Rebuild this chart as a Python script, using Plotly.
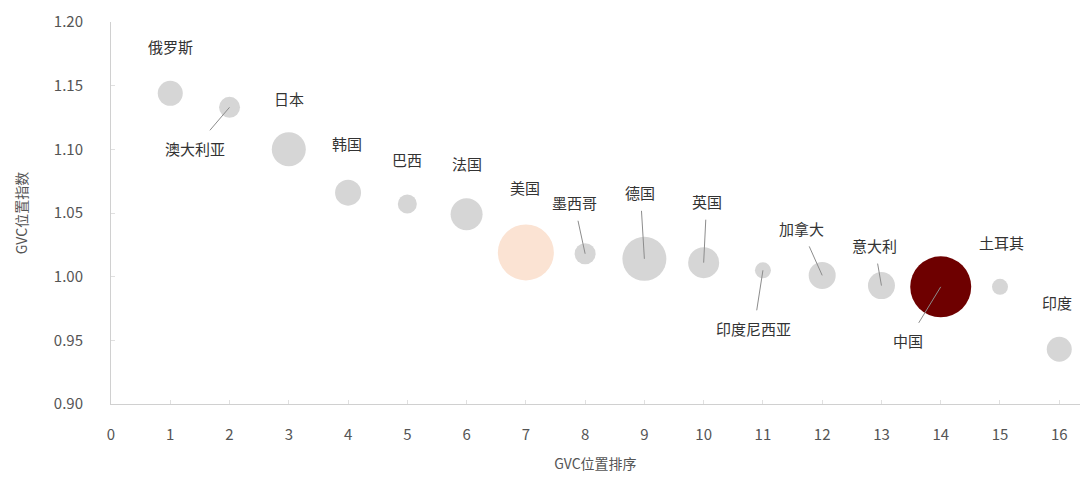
import plotly.graph_objects as go

# GVC position ranking vs. index, bubble diameter reflects economy weight
countries = ["俄罗斯", "澳大利亚", "日本", "韩国", "巴西", "法国", "美国", "墨西哥",
             "德国", "英国", "印度尼西亚", "加拿大", "意大利", "中国", "土耳其", "印度"]
rank = [1, 2, 3, 4, 5, 6, 7, 8, 9, 10, 11, 12, 13, 14, 15, 16]
gvc_index = [1.144, 1.133, 1.100, 1.066, 1.057, 1.049, 1.019, 1.018,
             1.014, 1.011, 1.005, 1.001, 0.993, 0.992, 0.992, 0.943]
weight = [25, 21, 34, 26, 19, 32, 56, 21, 44, 31, 16, 27, 27, 61, 16, 25]

x_ticks = list(range(0, 17))
y_ticks = [0.90, 0.95, 1.00, 1.05, 1.10, 1.15, 1.20]

GREY = "#d6d6d6"
colors = [GREY] * len(countries)
colors[countries.index("美国")] = "#fbe3d3"
colors[countries.index("中国")] = "#6e0000"

FONT = "Noto Sans CJK SC"
TXT = "#333333"
AXIS_TXT = "#555555"

fig = go.Figure()
fig.add_trace(go.Scatter(
    x=rank, y=gvc_index, mode="markers",
    marker=dict(size=weight, sizemode="diameter", sizeref=1, color=colors,
                opacity=1, line=dict(width=0)),
    text=countries, hoverinfo="text+x+y", showlegend=False,
))

# label placement: (dx, dy) pixel offsets of the label from its bubble, leader flag
label_pos = {
    "俄罗斯": (0, -47, False),
    "澳大利亚": (-35, 41, True),
    "日本": (0, -51, False),
    "韩国": (-1, -49, False),
    "巴西": (0, -45, False),
    "法国": (0, -51, False),
    "美国": (-1, -65, False),
    "墨西哥": (-11, -51, True),
    "德国": (-4, -66, True),
    "英国": (3, -61, True),
    "印度尼西亚": (-9, 58, True),
    "加拿大": (-21, -47, True),
    "意大利": (-7, -40, True),
    "中国": (-33, 54, True),
    "土耳其": (2, -44, False),
    "印度": (-2, -47, False),
}

annotations = []
for name, xv, yv in zip(countries, rank, gvc_index):
    dx, dy, leader = label_pos[name]
    if leader:
        annotations.append(dict(
            x=xv, y=yv, xref="x", yref="y", text=name, showarrow=True,
            ax=dx, ay=dy, axref="pixel", ayref="pixel",
            arrowhead=0, arrowwidth=1, arrowcolor="#8c8c8c", standoff=0,
            borderpad=7, font=dict(family=FONT, size=15, color=TXT),
        ))
    else:
        annotations.append(dict(
            x=xv, y=yv, xref="x", yref="y", text=name, showarrow=False,
            xshift=dx, yshift=-dy, font=dict(family=FONT, size=15, color=TXT),
        ))

fig.update_layout(
    width=1087, height=480,
    margin=dict(l=111, r=7, t=22, b=76),
    paper_bgcolor="white", plot_bgcolor="white",
    font=dict(family=FONT, size=15, color=AXIS_TXT),
    annotations=annotations,
    xaxis=dict(
        range=[0, 16.35], tickvals=x_ticks, ticktext=[str(v) for v in x_ticks],
        showgrid=False, zeroline=False, showline=True, linecolor="#d0d0d0", linewidth=1,
        ticks="inside", ticklen=4, tickcolor="#e0e0e0",
        tickfont=dict(family=FONT, size=15, color=AXIS_TXT),
        ticklabelstandoff=17,
        title=dict(text="GVC位置排序", font=dict(family=FONT, size=14, color=AXIS_TXT), standoff=16),
    ),
    yaxis=dict(
        range=[0.90, 1.20], tickvals=y_ticks, ticktext=[f"{v:.2f}" for v in y_ticks],
        showgrid=False, zeroline=False, showline=True, linecolor="#d0d0d0", linewidth=1,
        ticks="inside", ticklen=4, tickcolor="#e0e0e0",
        tickfont=dict(family=FONT, size=15, color=AXIS_TXT),
        ticklabelstandoff=24,
        title=dict(text="GVC位置指数", font=dict(family=FONT, size=14, color=AXIS_TXT), standoff=22),
    ),
)

fig.write_html("out.html")
